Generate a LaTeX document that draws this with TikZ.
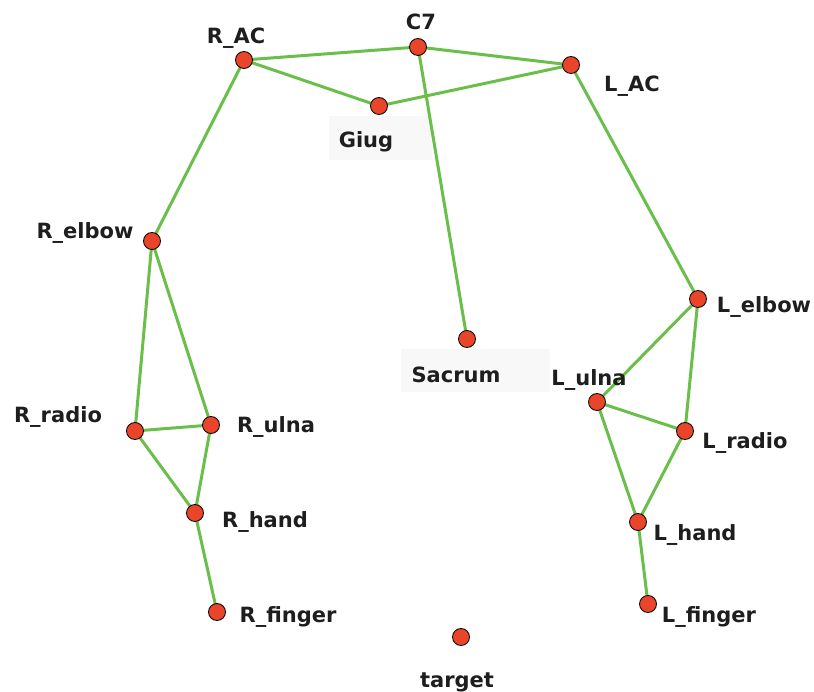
\documentclass[tikz,border=0pt]{standalone}
\usepackage{fontspec}
\setmainfont{DejaVu Sans}
\usetikzlibrary{backgrounds}
\definecolor{edgegreen}{HTML}{6ABF4B}
\definecolor{nodered}{HTML}{E8452A}
\definecolor{labelgray}{HTML}{1E1E1E}
\definecolor{boxgray}{HTML}{F8F8F8}
\begin{document}
\begin{tikzpicture}[x=1pt,y=-1pt,
  joint/.style={circle,draw=black,line width=0.8pt,fill=nodered,minimum size=17pt,inner sep=0pt},
  bone/.style={draw=edgegreen,line width=3pt},
  lbl/.style={text=labelgray,font=\bfseries\fontsize{21}{24}\selectfont,inner sep=0pt,yshift=-2pt}]
\useasboundingbox (0,0) rectangle (814,692);
% joints
\node[joint] (C7) at (418,47) {};
\node[joint] (RAC) at (244,60) {};
\node[joint] (LAC) at (571,65) {};
\node[joint] (Giug) at (379,106) {};
\node[joint] (Relbow) at (152,241) {};
\node[joint] (Lelbow) at (698,299) {};
\node[joint] (Sacrum) at (467,339) {};
\node[joint] (Lulna) at (597,402) {};
\node[joint] (Lradio) at (685,431) {};
\node[joint] (Rradio) at (135,431) {};
\node[joint] (Rulna) at (211,425) {};
\node[joint] (Rhand) at (195,513) {};
\node[joint] (Lhand) at (638,522) {};
\node[joint] (Rfinger) at (217,612) {};
\node[joint] (Lfinger) at (648,604) {};
\node[joint] (target) at (461,637) {};
% bones
\begin{pgfonlayer}{background}
\fill[boxgray] (329,116) rectangle (432,160);
\fill[boxgray] (401,349) rectangle (550,392);
\draw[bone] (RAC.center) -- (C7.center);
\draw[bone] (C7.center) -- (LAC.center);
\draw[bone] (RAC.center) -- (Giug.center);
\draw[bone] (Giug.center) -- (LAC.center);
\draw[bone] (C7.center) -- (Sacrum.center);
\draw[bone] (RAC.center) -- (Relbow.center);
\draw[bone] (LAC.center) -- (Lelbow.center);
\draw[bone] (Relbow.center) -- (Rradio.center);
\draw[bone] (Relbow.center) -- (Rulna.center);
\draw[bone] (Rradio.center) -- (Rulna.center);
\draw[bone] (Rradio.center) -- (Rhand.center);
\draw[bone] (Rulna.center) -- (Rhand.center);
\draw[bone] (Rhand.center) -- (Rfinger.center);
\draw[bone] (Lelbow.center) -- (Lulna.center);
\draw[bone] (Lelbow.center) -- (Lradio.center);
\draw[bone] (Lulna.center) -- (Lradio.center);
\draw[bone] (Lulna.center) -- (Lhand.center);
\draw[bone] (Lradio.center) -- (Lhand.center);
\draw[bone] (Lhand.center) -- (Lfinger.center);
\end{pgfonlayer}
% labels
\node[lbl] (tC7) at (421,20) {C7};
\node[lbl] (tRAC) at (236,36) {R\_AC};
\node[lbl] (tLAC) at (632,84) {L\_AC};
\node[lbl] (tGiug) at (366,140) {Giug};
\node[lbl] (tRelbow) at (85,231) {R\_elbow};
\node[lbl] (tLelbow) at (764,305) {L\_elbow};
\node[lbl] (tSacrum) at (456,373) {Sacrum};
\node[lbl] (tLulna) at (589,378) {L\_ulna};
\node[lbl] (tLradio) at (745,441) {L\_radio};
\node[lbl] (tRradio) at (58,415) {R\_radio};
\node[lbl] (tRulna) at (276,425) {R\_ulna};
\node[lbl] (tRhand) at (265,520) {R\_hand};
\node[lbl] (tLhand) at (695,533) {L\_hand};
\node[lbl] (tRfinger) at (288,615) {R\_finger};
\node[lbl] (tLfinger) at (709,615) {L\_finger};
\node[lbl] (ttarget) at (457,680) {target};
\end{tikzpicture}
\end{document}
